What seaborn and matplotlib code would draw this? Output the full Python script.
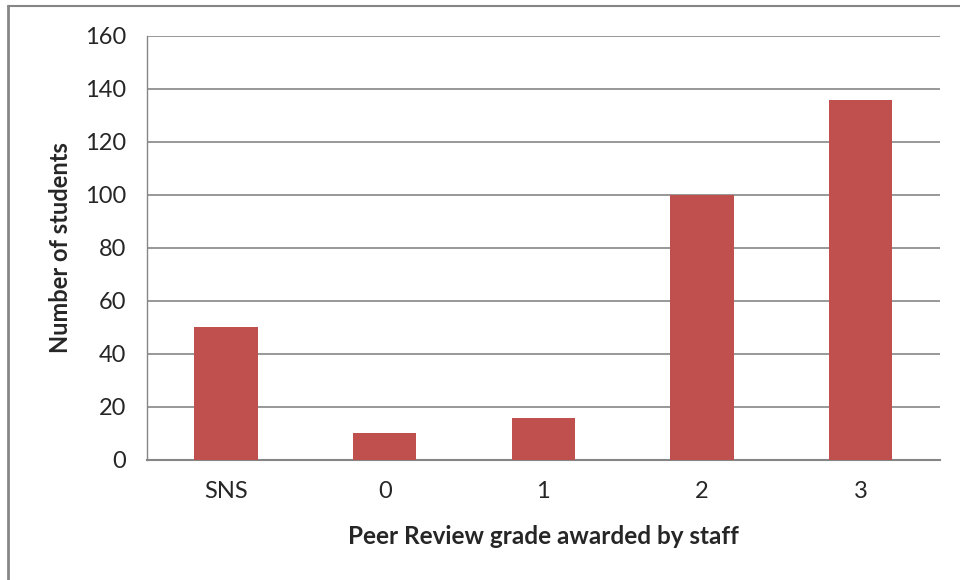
import matplotlib
matplotlib.use("Agg")
import matplotlib.pyplot as plt
from matplotlib.lines import Line2D
import pandas as pd
import seaborn as sns

grades = ["SNS", "0", "1", "2", "3"]
students = [50, 10, 16, 100, 136]

df = pd.DataFrame({"grade": grades, "students": students})

sns.set_style("white")
plt.rcParams["font.family"] = ["Lato", "DejaVu Sans"]

fig = plt.figure(figsize=(9.6, 5.8), dpi=100)
ax = fig.add_axes([0.153, 0.207, 0.826, 0.731])

sns.barplot(data=df, x="grade", y="students", color="#C0504D", width=0.4,
            saturation=1, linewidth=0, ax=ax, zorder=3)

ax.set_ylim(0, 160)
ax.set_yticks(range(0, 161, 20))
ax.set_xlim(-0.5, 4.5)
ax.yaxis.grid(True, color="#868686", linewidth=1.2, zorder=0)
ax.set_axisbelow(True)

for s in ["top", "right"]:
    ax.spines[s].set_visible(False)
ax.spines["left"].set_color("#868686")
ax.spines["left"].set_linewidth(1)
ax.spines["bottom"].set_color("#868686")
ax.spines["bottom"].set_linewidth(1.5)

# tick marks at category boundaries on x, left of axis on y
ax.set_xticks([i + 0.5 for i in range(-1, 5)], minor=True)
ax.tick_params(axis="x", which="minor", length=9, width=1, color="#868686", direction="out")
ax.tick_params(axis="x", which="major", length=0, pad=15, labelsize=17)
ax.tick_params(axis="y", length=7, width=1, color="#868686", direction="out", labelsize=17, pad=8)

ax.set_xlabel("Peer Review grade awarded by staff", fontsize=17.5, fontweight="bold", labelpad=17)
ax.set_ylabel("Number of students", fontsize=17, fontweight="bold", labelpad=9)

# outer chart border (left and top visible)
fig.add_artist(Line2D([8 / 960, 8 / 960], [0, 1 - 6 / 580], transform=fig.transFigure,
                      color="#868686", linewidth=2))
fig.add_artist(Line2D([8 / 960, 1], [1 - 6 / 580, 1 - 6 / 580], transform=fig.transFigure,
                      color="#868686", linewidth=1.5))

fig.savefig("out.png", dpi=100, facecolor="white")
